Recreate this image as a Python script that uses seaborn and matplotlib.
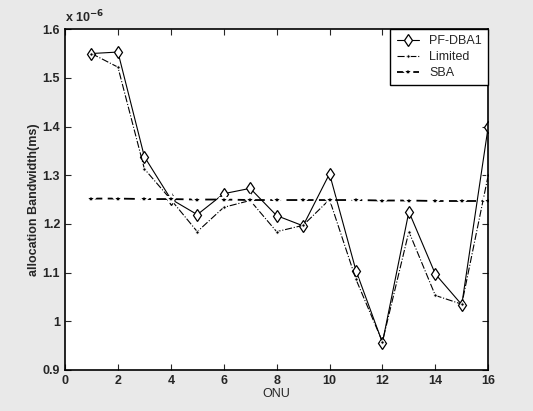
import matplotlib
matplotlib.use('Agg')
import matplotlib.pyplot as plt
import matplotlib.ticker as mticker
import seaborn as sns
import numpy as np

# Datos (valores en unidades de 1e-6)
onu = [1, 2, 3, 4, 5, 6, 7, 8, 9, 10, 11, 12, 13, 14, 15, 16]
pf_dba1 = [1.550, 1.553, 1.338, 1.251, 1.219, 1.262, 1.273, 1.217, 1.196, 1.303,
           1.104, 0.956, 1.225, 1.097, 1.034, 1.400]
limited = [1.550, 1.522, 1.313, 1.250, 1.184, 1.234, 1.248, 1.184, 1.197, 1.250,
           1.086, 0.958, 1.184, 1.053, 1.035, 1.300]
sba = [1.252, 1.252, 1.251, 1.251, 1.250, 1.250, 1.249, 1.249, 1.249, 1.249,
       1.249, 1.248, 1.248, 1.247, 1.247, 1.247]
escala = 1e-6

sns.set_style('ticks')
plt.rcParams['font.family'] = ['Liberation Sans', 'DejaVu Sans']
plt.rcParams['xtick.direction'] = 'in'
plt.rcParams['ytick.direction'] = 'in'

fig = plt.figure(figsize=(5.33, 4.11), dpi=100, facecolor='#e9e9e9')
ax = fig.add_axes([0.122, 0.100, 0.794, 0.829])
ax.set_facecolor('white')

sns.lineplot(x=onu, y=np.array(pf_dba1) * escala, ax=ax, color='black', lw=0.8,
             linestyle='-', marker='d', markersize=6, markerfacecolor='white',
             markeredgecolor='black', markeredgewidth=0.9, label='PF-DBA1')
sns.lineplot(x=onu, y=np.array(limited) * escala, ax=ax, color='black', lw=0.8,
             linestyle='-.', marker='.', markersize=5, label='Limited')
sns.lineplot(x=onu, y=np.array(sba) * escala, ax=ax, color='black', lw=1.3,
             linestyle=(0, (6, 3)), marker='*', markersize=8, markeredgewidth=1.4,
             label='SBA')

ax.set_xlim(0, 16)
ax.set_ylim(0.9 * escala, 1.6 * escala)
ax.set_xticks(range(0, 17, 2))
ax.set_yticks(np.arange(0.9, 1.61, 0.1) * escala)
ax.yaxis.set_major_formatter(mticker.FuncFormatter(lambda v, p: f'{v / escala:.1f}'.rstrip('0').rstrip('.')))
ax.text(0.0, 1.01, r'x 10$^{\mathbf{-6}}$', transform=ax.transAxes, fontsize=9,
        fontweight='bold', ha='left', va='bottom')

ax.tick_params(axis='both', which='both', top=True, right=True, length=4,
               width=0.8, labelsize=9)
for lbl in ax.get_xticklabels() + ax.get_yticklabels():
    lbl.set_fontweight('bold')
for sp in ax.spines.values():
    sp.set_linewidth(1.2)
    sp.set_color('black')

ax.set_xlabel('ONU', fontsize=9, labelpad=1)
ax.set_ylabel('allocation Bandwidth(ms)', fontsize=9, fontweight='bold', labelpad=2)

leg = ax.legend(loc='upper right', borderaxespad=0, fancybox=False, fontsize=9,
                edgecolor='black', framealpha=1, handlelength=1.8, labelspacing=0.3,
                borderpad=0.5)
leg.get_frame().set_linewidth(1.0)

fig.savefig('out.png', dpi=100, facecolor=fig.get_facecolor())
